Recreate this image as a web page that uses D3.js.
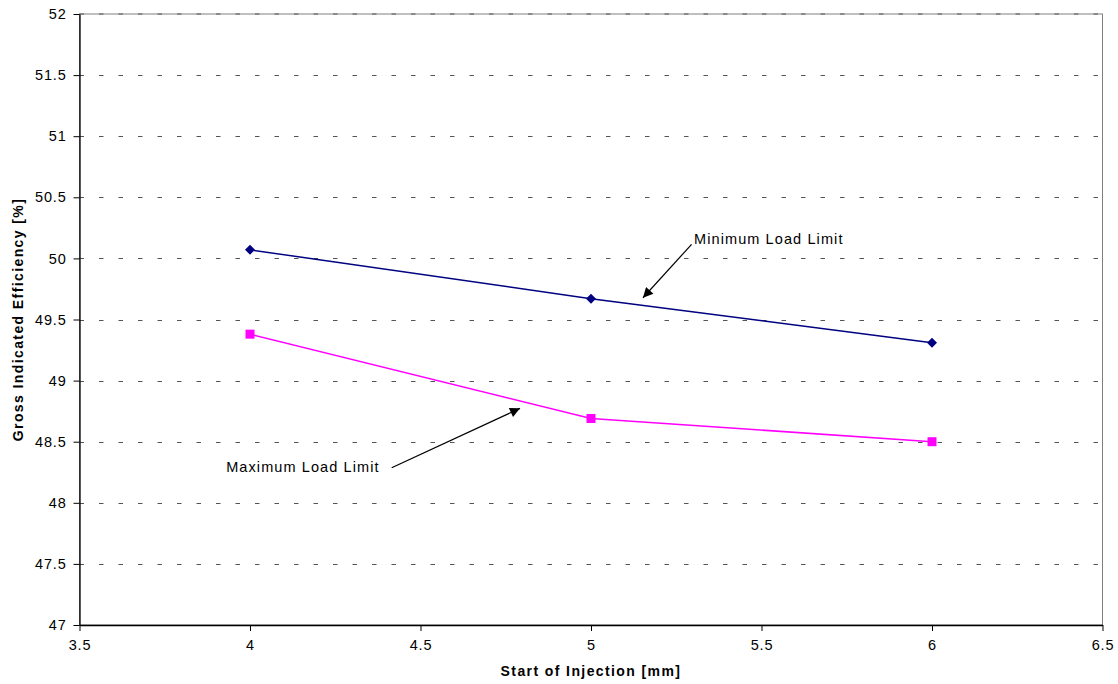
<!DOCTYPE html>
<html>
<head>
<meta charset="utf-8">
<script src="https://cdn.jsdelivr.net/npm/d3@7"></script>
<style>
  html, body { margin: 0; padding: 0; background: #fff; }
  svg { display: block; font-family: "Liberation Sans", Arial, sans-serif; }
</style>
</head>
<body>
<svg id="chart" width="1118" height="684"></svg>
<script>
// ---- data ----
const injection = [4, 5, 6];
const minLoadEff = [50.07, 49.67, 49.31];
const maxLoadEff = [49.38, 48.69, 48.50];
const xTicks = [3.5, 4, 4.5, 5, 5.5, 6, 6.5];
const yTicks = [47, 47.5, 48, 48.5, 49, 49.5, 50, 50.5, 51, 51.5, 52];
const xTitle = "Start of Injection [mm]";
const yTitle = "Gross Indicated Efficiency [%]";
const annotations = [
  { label: "Minimum Load Limit", x: 5.302, y: 50.118, tx: 5.295, ty: 50.115, hx: 5.1525, hy: 49.678 },
  { label: "Maximum Load Limit", x: 3.93, y: 48.252, tx: 4.4155, ty: 48.287, hx: 4.7918, hy: 48.773 }
];

// ---- layout ----
const svg = d3.select("#chart");
const L = 79.5, R = 1102.5, T = 14, B = 625;
const x = d3.scaleLinear().domain([3.5, 6.5]).range([L, R]);
const y = d3.scaleLinear().domain([47, 52]).range([B, T]);

// plot frame (top & right gray)
svg.append("rect").attr("x", L).attr("y", T).attr("width", R - L).attr("height", B - T)
  .attr("fill", "none").attr("stroke", "#808080").attr("stroke-width", 1);

// gridlines
svg.append("g").selectAll("line").data(yTicks.filter(v => v > 47 && v < 52)).join("line")
  .attr("x1", L).attr("x2", R)
  .attr("y1", d => Math.round(y(d)) + 0.5).attr("y2", d => Math.round(y(d)) + 0.5)
  .attr("stroke", "#555").attr("stroke-width", 1).attr("stroke-dasharray", "4.5,15");

// top dashed overlay
svg.append("line").attr("x1", L).attr("x2", R).attr("y1", T).attr("y2", T)
  .attr("stroke", "#555").attr("stroke-dasharray", "4.5,15");

// axes
const xAxis = d3.axisBottom(x).tickValues(xTicks).tickSize(6).tickSizeOuter(0).tickPadding(9)
  .tickFormat(d3.format("~g"));
const yAxis = d3.axisLeft(y).tickValues(yTicks).tickSize(6).tickSizeOuter(0).tickPadding(7)
  .tickFormat(d3.format("~g"));

const gx = svg.append("g").attr("transform", `translate(0,${B})`).call(xAxis);
const gy = svg.append("g").attr("transform", `translate(${L},0)`).call(yAxis);
[gx, gy].forEach(g => {
  g.select(".domain").attr("stroke", "#000").attr("stroke-width", 1.3);
  g.selectAll(".tick line").attr("stroke", "#000");
  g.selectAll(".tick text").attr("fill", "#000")
    .style("font-size", "14.5px").style("letter-spacing", "0.8px")
    .style("font-family", "'Liberation Sans', Arial, sans-serif");
});

// axis titles
svg.append("text").attr("x", (L + R) / 2).attr("y", 676).attr("text-anchor", "middle")
  .style("font-size", "14px").style("font-weight", "bold").style("letter-spacing", "1.4px")
  .text(xTitle);
svg.append("text").attr("transform", `translate(23,${(T + B) / 2}) rotate(-90)`)
  .attr("text-anchor", "middle")
  .style("font-size", "14px").style("font-weight", "bold").style("letter-spacing", "1.4px")
  .text(yTitle);

// lines
const minData = injection.map((v, i) => [v, minLoadEff[i]]);
const maxData = injection.map((v, i) => [v, maxLoadEff[i]]);
const line = d3.line().x(d => x(d[0])).y(d => y(d[1]));

svg.append("path").datum(minData).attr("d", line)
  .attr("fill", "none").attr("stroke", "#000080").attr("stroke-width", 1.5);
svg.append("path").datum(maxData).attr("d", line)
  .attr("fill", "none").attr("stroke", "#FF00FF").attr("stroke-width", 1.5);

// markers
svg.append("g").selectAll("path").data(minData).join("path")
  .attr("transform", d => `translate(${x(d[0])},${y(d[1])})`)
  .attr("d", "M0,-5L5,0L0,5L-5,0Z").attr("fill", "#000080");
svg.append("g").selectAll("rect").data(maxData).join("rect")
  .attr("x", d => x(d[0]) - 4.5).attr("y", d => y(d[1]) - 4.5)
  .attr("width", 9).attr("height", 9).attr("fill", "#FF00FF");

// arrows
svg.append("defs").append("marker").attr("id", "arrow")
  .attr("viewBox", "0 0 10 10").attr("refX", 10).attr("refY", 5)
  .attr("markerWidth", 16).attr("markerHeight", 10).attr("markerUnits", "userSpaceOnUse")
  .attr("orient", "auto")
  .append("path").attr("d", "M0,0L10,5L0,10Z").attr("fill", "#000");

annotations.forEach(a => {
  svg.append("line")
    .attr("x1", x(a.tx)).attr("y1", y(a.ty))
    .attr("x2", x(a.hx)).attr("y2", y(a.hy))
    .attr("stroke", "#000").attr("stroke-width", 1.2).attr("marker-end", "url(#arrow)");
  svg.append("text").attr("x", x(a.x)).attr("y", y(a.y))
    .style("font-size", "14.5px").style("letter-spacing", "1.1px").attr("fill", "#000")
    .text(a.label);
});
</script>
</body>
</html>
